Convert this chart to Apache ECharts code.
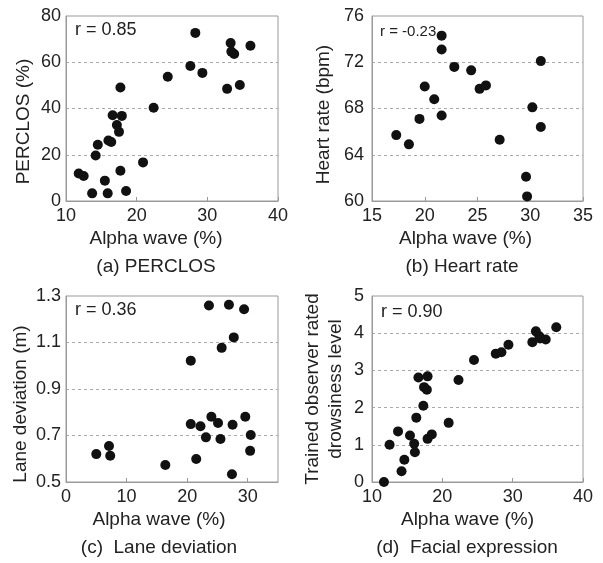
<!DOCTYPE html>
<html>
<head>
<meta charset="utf-8">
<style>html,body{margin:0;padding:0;background:#fff}#c{width:603px;height:563px}</style>
<script src="https://cdn.jsdelivr.net/npm/echarts@6/dist/echarts.min.js"></script>
</head>
<body>
<div id="c"></div>
<script>
// (a) PERCLOS vs alpha wave
const alphaA = [11.8,12.5,13.7,14.2,14.5,15.5,15.9,16.0,16.4,16.6,17.2,17.5,17.7,17.7,17.9,18.5,20.9,22.4,24.4,27.6,28.3,29.3,32.8,33.3,33.4,33.8,34.6,36.1];
const perclos = [11.9,10.8,3.3,19.7,24.3,8.8,3.3,26.2,25.5,37.1,32.9,29.9,49.1,13.1,36.8,4.3,16.7,40.3,53.7,58.4,72.7,55.4,48.5,68.3,64.6,63.6,50.2,67.1];
// (b) Heart rate vs alpha wave
const alphaB = [17.3,18.5,19.5,20.0,20.9,21.6,21.6,21.6,22.8,24.4,25.2,25.8,27.1,29.6,29.7,30.2,31.0,31.0];
const heartRate = [65.7,64.9,67.1,69.9,68.8,67.4,73.1,74.3,71.6,71.3,69.7,70.0,65.3,62.1,60.4,68.1,72.1,66.4];
// (c) Lane deviation vs alpha wave
const alphaC = [5.0,7.1,7.3,16.4,20.6,20.6,21.5,22.2,23.1,23.6,24.0,25.1,25.5,25.7,26.9,27.4,27.5,27.7,29.4,29.6,30.4,30.5];
const laneDev = [0.620,0.655,0.613,0.573,1.022,0.749,0.599,0.740,0.692,1.259,0.781,0.754,0.685,1.077,1.262,0.533,0.746,1.122,1.243,0.781,0.634,0.702];
// (d) Facial expression (observer rated drowsiness) vs alpha wave
const alphaD = [11.7,12.5,13.7,14.2,14.6,15.4,16.0,16.1,16.3,16.6,17.3,17.4,17.8,17.9,17.9,18.5,20.9,22.3,24.5,27.6,28.4,29.4,32.8,33.3,33.8,33.9,34.7,36.2];
const drowsiness = [0.0,1.0,1.36,0.29,0.6,1.25,1.03,0.8,1.73,2.81,2.05,2.55,2.48,2.84,1.16,1.28,1.59,2.74,3.28,3.45,3.49,3.69,3.76,4.05,3.92,3.86,3.83,4.16];

const rLabels = ['r = 0.85','r = -0.23','r = 0.36','r = 0.90'];
const captions = ['(a) PERCLOS','(b) Heart rate','(c)  Lane deviation','(d)  Facial expression'];
const xName = 'Alpha wave (%)';
const yNames = ['PERCLOS (%)','Heart rate (bpm)','Lane deviation (m)','Trained observer rated\ndrowsiness level'];

const zip = (a,b) => a.map((v,i)=>[v,b[i]]);
const FONT = 'Liberation Sans, Arial, sans-serif';
const TXT = '#222';
const FRAME = '#9a9a9a';

const grids = [
  {left:66, top:16, width:212, height:185},
  {left:372, top:16, width:211, height:185},
  {left:66, top:296, width:212, height:186},
  {left:372, top:296, width:211, height:186}
].map(g=>Object.assign({show:true, borderColor:FRAME, borderWidth:1, backgroundColor:'transparent'}, g));

const xRanges = [[10,40,10],[15,35,5],[0,35,10],[10,40,10]];
const yRanges = [[0,80,20],[60,76,4],[0.5,1.3,0.2],[0,5,1]];
const yNameGap = [31, 37, 32, 25];
const yNamePad = [[0,26,0,0],[0,12,0,0],[0,30,0,0],[0,0,0,0]];
const xNamePad = [[0,32,0,0],[0,24,0,0],[0,26,0,0],[0,20,0,0]];
const yLabelMargin = [5,8,5,8];

const xAxes = xRanges.map((r,i)=>({
  type:'value', gridIndex:i, min:r[0], max:r[1], interval:r[2],
  name:xName, nameLocation:'middle', nameGap:28,
  nameTextStyle:{fontFamily:FONT, fontSize:19, color:TXT, padding:xNamePad[i]},
  axisLine:{show:true, lineStyle:{color:FRAME}},
  axisTick:{show:true, inside:true, length:4, lineStyle:{color:FRAME}},
  axisLabel:{fontFamily:FONT, fontSize:18, color:TXT, margin:6, showMaxLabel: i===2 ? false : true},
  splitLine:{show:false}
}));

const yAxes = yRanges.map((r,i)=>({
  type:'value', gridIndex:i, min:r[0], max:r[1], interval:r[2],
  name:yNames[i], nameLocation:'middle', nameGap:yNameGap[i], nameRotate:90,
  nameTextStyle:{fontFamily:FONT, fontSize:19, color:TXT, padding:yNamePad[i], lineHeight:23, align:'center'},
  axisLine:{show:true, lineStyle:{color:FRAME}},
  axisTick:{show:false},
  axisLabel:{fontFamily:FONT, fontSize:18, color:TXT, margin:yLabelMargin[i]},
  splitLine:{show:true, showMinLine:false, showMaxLine:false, lineStyle:{color:'#aaa', type:[3,3], width:1}}
}));

const dataSets = [zip(alphaA,perclos), zip(alphaB,heartRate), zip(alphaC,laneDev), zip(alphaD,drowsiness)];
const series = dataSets.map((d,i)=>({
  type:'scatter', xAxisIndex:i, yAxisIndex:i, data:d, symbolSize:10,
  itemStyle:{color:'#111', opacity:1}, silent:true
}));

const rPos = [[75,30,18],[380,32,15],[75,310,18],[381,312,18]];
const capPos = [[156,267],[462,267],[159,548],[467,548]];
const graphic = [];
rLabels.forEach((t,i)=>graphic.push({type:'text', x:rPos[i][0], y:rPos[i][1],
  style:{text:t, fontFamily:FONT, fontSize:rPos[i][2], fill:TXT, align:'left', verticalAlign:'middle'}}));
captions.forEach((t,i)=>graphic.push({type:'text', x:capPos[i][0], y:capPos[i][1],
  style:{text:t, fontFamily:FONT, fontSize:19, fill:TXT, align:'center', verticalAlign:'middle'}}));

const chart = echarts.init(document.getElementById('c'), null, {renderer:'canvas'});
chart.setOption({
  animation:false,
  backgroundColor:'#fff',
  grid:grids, xAxis:xAxes, yAxis:yAxes, series:series, graphic:graphic
});
</script>
</body>
</html>
